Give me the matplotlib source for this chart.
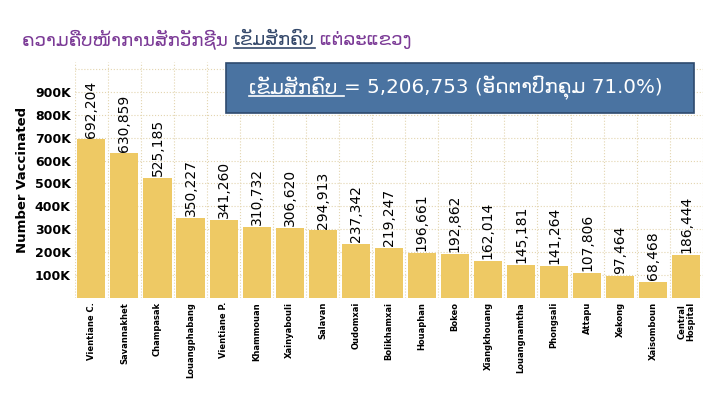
import matplotlib
matplotlib.use('Agg')
import matplotlib.pyplot as plt
import numpy as np
from matplotlib.ticker import FixedLocator, FuncFormatter

provinces = ['Vientiane C.', 'Savannakhet', 'Champasak', 'Louangphabang', 'Vientiane P.',
             'Khammouan', 'Xainyabouli', 'Salavan', 'Oudomxai', 'Bolikhamxai', 'Houaphan',
             'Bokeo', 'Xiangkhouang', 'Louangnamtha', 'Phongsali', 'Attapu', 'Xekong',
             'Xaisomboun', 'Central\nHospital']
vaccinated = [692204, 630859, 525185, 350227, 341260, 310732, 306620, 294913, 237342,
              219247, 196661, 192862, 162014, 145181, 141264, 107806, 97464, 68468, 186444]
y_ticks = [100000, 200000, 300000, 400000, 500000, 600000, 700000, 800000, 900000]

title_a = 'ຄວາມຄືບໜ້າການສັກວັກຊີນ '
title_u = 'ເຂັມສັກຄົບ'
title_b = ' ແຕ່ລະແຂວງ'
box_u = 'ເຂັມສັກຄົບ '
box_rest = '= 5,206,753 (ອັດຕາປົກຄຸມ 71.0%)'

plt.rcParams['font.family'] = ['DejaVu Sans']

fig = plt.figure(figsize=(7.2, 3.93), dpi=100)
ax = fig.add_axes([0.104, 0.242, 0.872, 0.600])

x = np.arange(len(provinces))
ax.bar(x, vaccinated, width=0.85, color='#EEC964', zorder=2)
for xi, v in zip(x, vaccinated):
    ax.text(xi, v + 8000, f'{v:,}', rotation=90, ha='center', va='bottom',
            fontsize=10, color='black', zorder=3)

ax.set_xlim(-0.5, len(provinces) - 0.5)
ax.set_ylim(0, 1030000)
ax.set_xticks(x)
ax.set_xticklabels(provinces, rotation=90, fontsize=6, fontweight='bold', linespacing=1.0)
ax.xaxis.set_minor_locator(FixedLocator(np.arange(-0.5, len(provinces), 1.0)))
ax.yaxis.set_major_locator(FixedLocator(y_ticks))
ax.yaxis.set_minor_locator(FixedLocator(np.arange(0, 1000001, 100000)))
ax.yaxis.remove_overlapping_locs = False
ax.yaxis.set_major_formatter(FuncFormatter(lambda v, p: f'{int(v/1000)}K'))
for lab in ax.get_yticklabels():
    lab.set_fontweight('bold')
    lab.set_fontsize(9)
ax.tick_params(axis='both', which='both', length=0)
ax.tick_params(axis='y', pad=3)
ax.tick_params(axis='x', pad=3)
ax.grid(which='minor', color='#E3D5B0', linestyle=':', linewidth=0.8, zorder=0)
for s in ax.spines.values():
    s.set_visible(False)
ax.set_ylabel('Number Vaccinated', fontsize=9.5, fontweight='bold', labelpad=4)

# title with underlined part
fig.canvas.draw()
r = fig.canvas.get_renderer()
tcol = '#7B3A96'
ucol = '#34486A'
t1 = fig.text(22/720, 1 - 40/393, title_a, fontsize=13.1, color=tcol, va='center', ha='left')
bb = t1.get_window_extent(r)
t2 = fig.text(bb.x1/720, 1 - 40/393, title_u, fontsize=13.1, color=ucol, va='center', ha='left')
bb2 = t2.get_window_extent(r)
fig.add_artist(plt.Line2D([bb2.x0/720, bb2.x1/720], [(bb2.y0 + 1)/393]*2, color=ucol, lw=1.2))
t3 = fig.text(bb2.x1/720, 1 - 40/393, title_b, fontsize=13.1, color=tcol, va='center', ha='left')

# summary box
fig.patches.append(plt.Rectangle((226/720, 1 - 113/393), 468/720, 50/393,
                                 transform=fig.transFigure, facecolor='#4A73A1',
                                 edgecolor='#2E4A6E', linewidth=1.2, zorder=5))
b1 = fig.text(249/720, 1 - 88/393, box_u, fontsize=14.3, color='white', va='center', ha='left', zorder=6)
bb3 = b1.get_window_extent(r)
fig.add_artist(plt.Line2D([bb3.x0/720, bb3.x1/720], [(bb3.y0 + 2)/393]*2, color='white', lw=1.2, zorder=6))
fig.text(bb3.x1/720, 1 - 88/393, box_rest, fontsize=14.3, color='white', va='center', ha='left', zorder=6)

fig.savefig('out.png', dpi=100)
